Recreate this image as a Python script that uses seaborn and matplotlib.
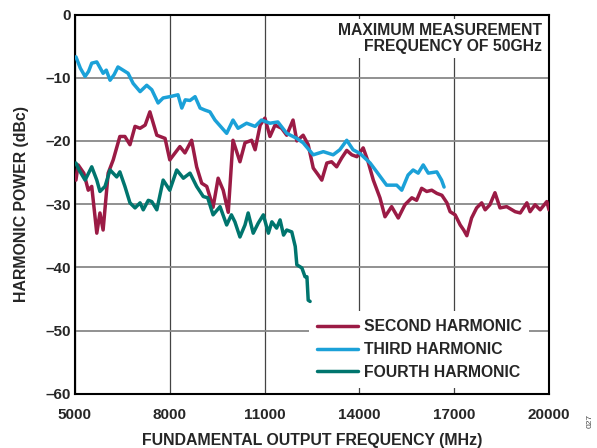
import numpy as np
import pandas as pd
import matplotlib
matplotlib.use("Agg")
import matplotlib.pyplot as plt
import seaborn as sns

sns.set_style("white")
plt.rcParams['font.family'] = ['Liberation Sans', 'DejaVu Sans']
plt.rcParams['font.weight'] = 'bold'

# second harmonic (MHz, dBc)
f2 = [5030, 5100, 5280, 5420, 5530, 5690, 5790, 5890, 6050, 6210, 6420, 6580, 6740, 6900,
      7060, 7220, 7370, 7590, 7850, 8000, 8320, 8480, 8690, 8850, 9010, 9170, 9370, 9530,
      9690, 9850, 10000, 10220, 10380, 10590, 10700, 10860, 11010, 11170, 11330, 11540, 11700,
      11900, 12020, 12220, 12380, 12540, 12700, 12810, 12970, 13120, 13280, 13440, 13600,
      13760, 13920, 14120, 14270, 14440, 14650, 14810, 15020, 15230, 15440, 15660, 15810,
      15970, 16130, 16290, 16450, 16610, 16770, 16870, 17030, 17190, 17300, 17400, 17550,
      17710, 17870, 17980, 18130, 18290, 18450, 18660, 18930, 19090, 19300, 19400, 19560,
      19720, 19930, 20000]
p2 = [-26.2, -23.8, -25.1, -27.8, -27.2, -34.6, -31.4, -34.1, -25.1, -23.0, -19.3, -19.3,
      -20.6, -17.7, -18.0, -17.5, -15.4, -19.1, -19.6, -23.0, -20.9, -21.9, -19.9, -24.1,
      -26.7, -27.2, -30.5, -25.9, -27.8, -31.3, -19.9, -23.3, -20.3, -19.9, -21.4, -17.5,
      -16.4, -19.3, -17.5, -18.0, -19.1, -16.7, -20.0, -19.1, -20.6, -24.3, -25.4, -26.2,
      -23.5, -23.3, -24.1, -22.7, -21.5, -22.2, -22.5, -21.1, -23.2, -26.2, -29.0, -32.0,
      -30.4, -32.2, -30.1, -29.0, -29.4, -27.5, -28.0, -27.8, -28.3, -28.6, -29.8, -31.2,
      -31.7, -33.3, -34.1, -35.0, -32.2, -30.6, -29.8, -30.9, -30.1, -28.2, -30.6, -30.4,
      -31.2, -31.4, -29.8, -31.2, -30.1, -30.9, -29.6, -30.9]

# third harmonic
f3 = [5030, 5170, 5320, 5430, 5530, 5690, 5890, 5990, 6110, 6240, 6360, 6520, 6680, 6840,
      7060, 7270, 7430, 7630, 7790, 8000, 8260, 8380, 8490, 8640, 8800, 8960, 9100, 9270,
      9430, 9800, 10000, 10160, 10430, 10700, 10900, 11170, 11420, 11700, 12020, 12220,
      12540, 12860, 13170, 13380, 13600, 13800, 14020, 14340, 14550, 14860, 15180, 15340,
      15540, 15700, 15860, 16020, 16180, 16450, 16600, 16680]
p3 = [-6.7, -8.5, -9.8, -9.0, -7.7, -7.5, -9.3, -8.8, -10.4, -9.5, -8.3, -8.8, -9.3, -10.9,
      -12.2, -11.2, -11.9, -14.0, -13.2, -13.0, -12.7, -14.8, -13.5, -13.6, -13.0, -14.8,
      -15.1, -15.4, -16.7, -18.8, -16.7, -18.0, -17.2, -17.7, -16.7, -17.2, -17.0, -18.8,
      -19.6, -20.3, -22.2, -21.7, -22.2, -21.4, -19.9, -21.4, -22.0, -23.5, -24.9, -27.0,
      -27.0, -27.8, -25.4, -24.6, -25.1, -23.8, -25.1, -24.9, -26.2, -27.3]

# fourth harmonic
f4 = [5030, 5130, 5320, 5530, 5690, 5790, 5950, 6110, 6320, 6420, 6580, 6740, 6900, 7060,
      7160, 7320, 7430, 7590, 7790, 8000, 8220, 8430, 8640, 8850, 9060, 9200, 9370, 9590,
      9800, 9950, 10060, 10220, 10380, 10480, 10640, 10800, 10960, 11120, 11230, 11380,
      11490, 11600, 11700, 11860, 11970, 12020, 12180, 12280, 12340, 12380, 12440]
p4 = [-23.5, -24.6, -26.2, -24.1, -26.2, -28.0, -27.2, -24.6, -25.7, -24.9, -27.2, -29.8,
      -30.6, -29.8, -30.9, -29.4, -29.6, -30.9, -26.2, -27.8, -24.6, -25.9, -25.1, -27.2,
      -28.8, -29.0, -31.7, -30.4, -33.3, -31.7, -32.8, -35.2, -33.3, -31.4, -34.6, -33.0,
      -31.7, -34.6, -32.8, -33.8, -32.5, -34.9, -34.1, -34.4, -36.7, -39.6, -40.1, -41.5,
      -41.5, -45.2, -45.4]

labels = ["SECOND HARMONIC", "THIRD HARMONIC", "FOURTH HARMONIC"]
colors = ["#9b1b45", "#1ba1d8", "#00756e"]

df = pd.concat([
    pd.DataFrame({"freq": f2, "power": p2, "series": labels[0]}),
    pd.DataFrame({"freq": f3, "power": p3, "series": labels[1]}),
    pd.DataFrame({"freq": f4, "power": p4, "series": labels[2]}),
], ignore_index=True)

fig = plt.figure(figsize=(5.97, 4.48), dpi=100)
ax = fig.add_axes([0.1256, 0.1212, 0.794, 0.8464])

sns.lineplot(data=df, x="freq", y="power", hue="series", palette=dict(zip(labels, colors)),
             sort=False, estimator=None, linewidth=2.5, ax=ax, legend=False, zorder=3)

ax.set_xlim(5000, 20000)
ax.set_ylim(-60, 0)
ax.set_xticks(np.arange(5000, 20001, 3000))
ax.set_yticks(np.arange(-60, 1, 10))
ax.set_yticklabels(["\u201360", "\u201350", "\u201340", "\u201330", "\u201320", "\u201310", "0"])
ax.grid(which='major', axis='y', color='#888888', linewidth=1.3, zorder=0)
ax.grid(which='major', axis='x', color='#444444', linewidth=0.9, zorder=0)
ax.set_axisbelow(True)
for s in ax.spines.values():
    s.set_color('black')
    s.set_linewidth(1.5)
ax.tick_params(axis='both', length=0, labelsize=11)
ax.tick_params(axis='x', pad=10)
ax.tick_params(axis='y', pad=3)
for lab in ax.get_xticklabels() + ax.get_yticklabels():
    lab.set_fontweight('bold')

ax.set_xlabel("FUNDAMENTAL OUTPUT FREQUENCY (MHz)", fontsize=11.4, fontweight='bold', labelpad=8)
ax.set_ylabel("HARMONIC POWER (dBc)", fontsize=11.4, fontweight='bold', labelpad=12)

ax.text(0.985, 0.977, "MAXIMUM MEASUREMENT\nFREQUENCY OF 50GHz", transform=ax.transAxes,
        ha='right', va='top', fontsize=11.3, fontweight='bold', linespacing=1.05, zorder=5,
        bbox=dict(facecolor='white', edgecolor='none', pad=3))

handles = [plt.Line2D([], [], color=c, linewidth=2.5) for c in colors]
leg = ax.legend(handles, labels, loc='lower right', bbox_to_anchor=(0.975, -0.005),
                frameon=True, fontsize=11.3, handlelength=2.6, handletextpad=0.35,
                labelspacing=0.5, borderpad=0.5)
leg.get_frame().set_facecolor('white')
leg.get_frame().set_edgecolor('none')
leg.get_frame().set_alpha(1)
leg.set_zorder(5)
for t in leg.get_texts():
    t.set_fontweight('bold')

fig.text(0.988, 0.06, "027", rotation=90, fontsize=6, fontweight='normal',
         color='#444444', ha='center', va='center')

fig.savefig("out.png", dpi=100)
